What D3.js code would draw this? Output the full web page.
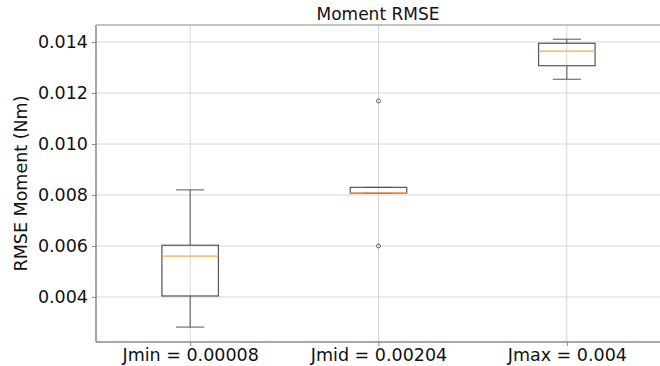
<!DOCTYPE html>
<html>
<head>
<meta charset="utf-8">
<script src="https://cdn.jsdelivr.net/npm/d3@7"></script>
<style>
  body { margin: 0; background: #fff; }
  text { font-family: "DejaVu Sans", sans-serif; fill: #111; }
</style>
</head>
<body>
<svg id="chart" width="660" height="366"></svg>
<script>
// box stats
const categories = ["Jmin = 0.00008", "Jmid = 0.00204", "Jmax = 0.004"];
const whiskerLow  = [0.00282, 0.00807, 0.01254];
const q1          = [0.00404, 0.00807, 0.01307];
const median      = [0.00560, 0.00808, 0.01364];
const q3          = [0.00603, 0.00830, 0.01395];
const whiskerHigh = [0.00820, 0.00830, 0.01411];
const outliers    = [[], [0.01169, 0.00600], []];
const yTicks = [0.004, 0.006, 0.008, 0.010, 0.012, 0.014];

const svg = d3.select("#chart");
const margin = {left: 96, right: 0, top: 25, bottom: 24};
const width = 660, height = 366;

const x = d3.scaleLinear().domain([0.5, 3.5]).range([margin.left, 661]);
const y = d3.scaleLinear().domain([0.002235, 0.014667]).range([height - margin.bottom, margin.top]);

const boxW = 0.3, capW = 0.15;

// grid
const grid = svg.append("g");
grid.selectAll(".hg").data(yTicks).enter().append("line")
  .attr("x1", margin.left).attr("x2", width)
  .attr("y1", d => y(d)).attr("y2", d => y(d))
  .attr("stroke", "#d6d6d6").attr("stroke-width", 1);
grid.selectAll(".vg").data(categories).enter().append("line")
  .attr("x1", (d, i) => x(i + 1)).attr("x2", (d, i) => x(i + 1))
  .attr("y1", margin.top).attr("y2", height - margin.bottom)
  .attr("stroke", "#d6d6d6").attr("stroke-width", 1);

// boxes
const stroke = "#555";
const boxes = svg.append("g").selectAll("g").data(categories).enter().append("g");
boxes.append("line")
  .attr("x1", (d, i) => x(i + 1)).attr("x2", (d, i) => x(i + 1))
  .attr("y1", (d, i) => y(whiskerHigh[i])).attr("y2", (d, i) => y(q3[i]))
  .attr("stroke", stroke);
boxes.append("line")
  .attr("x1", (d, i) => x(i + 1)).attr("x2", (d, i) => x(i + 1))
  .attr("y1", (d, i) => y(q1[i])).attr("y2", (d, i) => y(whiskerLow[i]))
  .attr("stroke", stroke);
boxes.append("line")
  .attr("x1", (d, i) => x(i + 1 - capW / 2)).attr("x2", (d, i) => x(i + 1 + capW / 2))
  .attr("y1", (d, i) => y(whiskerHigh[i])).attr("y2", (d, i) => y(whiskerHigh[i]))
  .attr("stroke", stroke);
boxes.append("line")
  .attr("x1", (d, i) => x(i + 1 - capW / 2)).attr("x2", (d, i) => x(i + 1 + capW / 2))
  .attr("y1", (d, i) => y(whiskerLow[i])).attr("y2", (d, i) => y(whiskerLow[i]))
  .attr("stroke", stroke);
boxes.append("rect")
  .attr("x", (d, i) => x(i + 1 - boxW / 2))
  .attr("width", (d, i) => x(i + 1 + boxW / 2) - x(i + 1 - boxW / 2))
  .attr("y", (d, i) => y(q3[i]))
  .attr("height", (d, i) => y(q1[i]) - y(q3[i]))
  .attr("fill", "none").attr("stroke", stroke).attr("stroke-width", 1.2);
boxes.append("line")
  .attr("x1", (d, i) => x(i + 1 - boxW / 2)).attr("x2", (d, i) => x(i + 1 + boxW / 2))
  .attr("y1", (d, i) => y(median[i])).attr("y2", (d, i) => y(median[i]))
  .attr("stroke", "#ffa54f").attr("stroke-width", 1.2);
boxes.each(function(d, i) {
  d3.select(this).selectAll("circle").data(outliers[i]).enter().append("circle")
    .attr("cx", x(i + 1)).attr("cy", v => y(v)).attr("r", 2)
    .attr("fill", "none").attr("stroke", "#666").attr("stroke-width", 1);
});

// axes
const yAxis = d3.axisLeft(y).tickValues(yTicks).tickFormat(d3.format(".3f")).tickSize(4).tickPadding(4);
const gy = svg.append("g").attr("transform", `translate(${margin.left},0)`).call(yAxis);
const xAxis = d3.axisBottom(x).tickValues([1, 2, 3]).tickFormat((d, i) => categories[i]).tickSize(4).tickPadding(2);
const gx = svg.append("g").attr("transform", `translate(0,${height - margin.bottom})`).call(xAxis);
[gy, gx].forEach(g => {
  g.select(".domain").remove();
  g.selectAll(".tick line").attr("stroke", "#888");
  g.selectAll(".tick text").style("font-size", "17.5px").attr("fill", "#111");
});
gx.selectAll(".tick text").attr("dy", "0.75em");

// spines
svg.append("line").attr("x1", margin.left).attr("x2", margin.left)
  .attr("y1", margin.top).attr("y2", height - margin.bottom)
  .attr("stroke", "#8a8a8a").attr("stroke-width", 1.5);
svg.append("line").attr("x1", margin.left).attr("x2", width)
  .attr("y1", height - margin.bottom).attr("y2", height - margin.bottom)
  .attr("stroke", "#8a8a8a").attr("stroke-width", 1.5);
svg.append("line").attr("x1", margin.left).attr("x2", width)
  .attr("y1", margin.top).attr("y2", margin.top)
  .attr("stroke", "#b0b0b0").attr("stroke-width", 1.5);

// labels
svg.append("text").attr("x", 378).attr("y", 20).attr("text-anchor", "middle")
  .style("font-size", "17px").text("Moment RMSE");
svg.append("text").attr("transform", `translate(27,${(margin.top + height - margin.bottom) / 2}) rotate(-90)`)
  .attr("text-anchor", "middle").style("font-size", "17.5px").text("RMSE Moment (Nm)");
</script>
</body>
</html>
